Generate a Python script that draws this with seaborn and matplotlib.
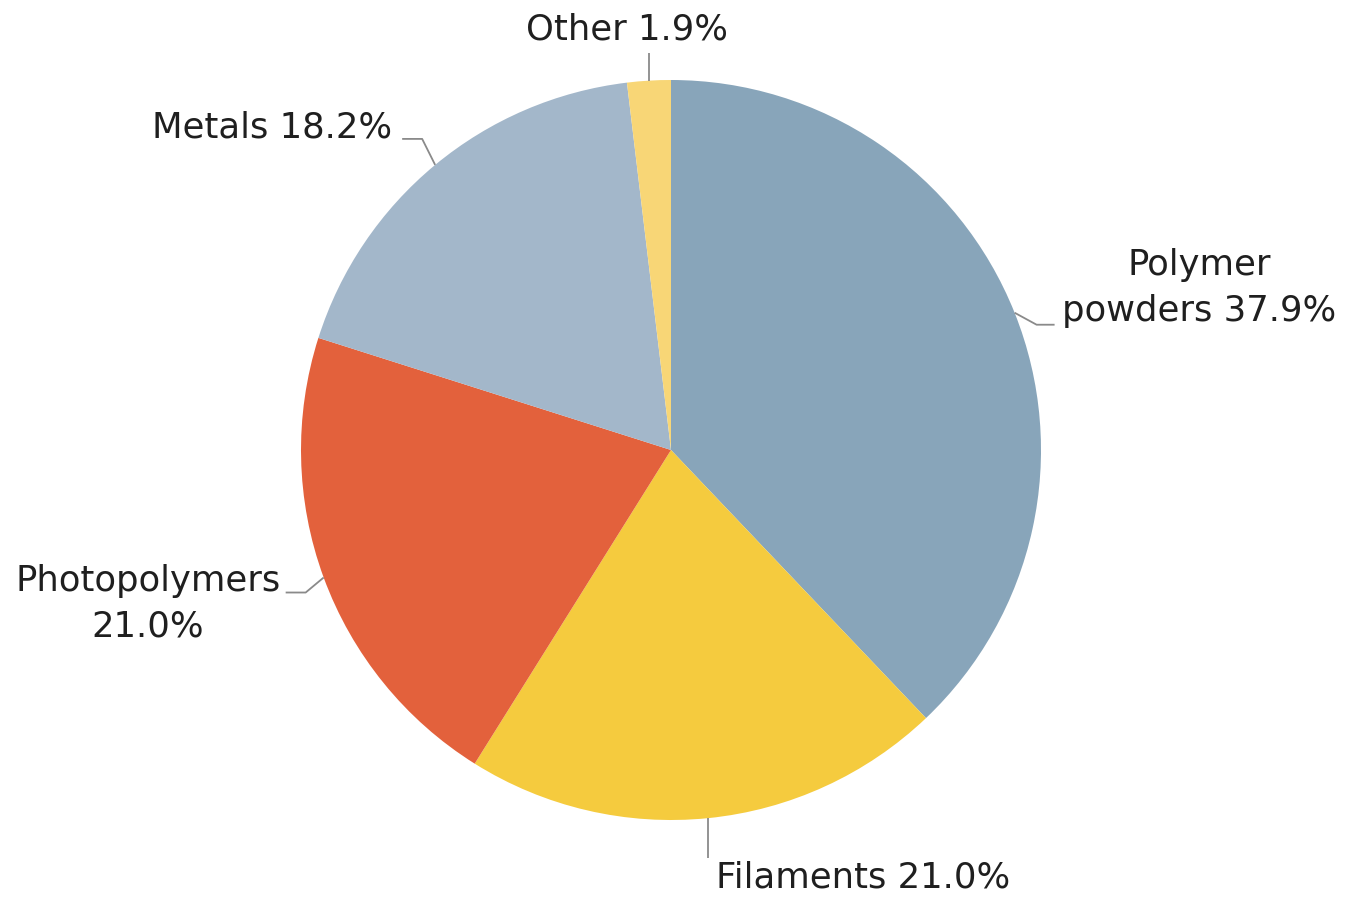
import matplotlib
matplotlib.use("Agg")
import matplotlib.pyplot as plt
import numpy as np
import seaborn as sns

categories = ["Polymer\npowders", "Filaments", "Photopolymers\n", "Metals", "Other"]
shares = [37.9, 21.0, 21.0, 18.2, 1.9]
colors = ["#88A5BA", "#F5CB3E", "#E3613C", "#A3B7CA", "#F8D676"]

sns.set_theme(style="white")
plt.rcParams["font.family"] = ["DejaVu Sans"]

W, H = 1346, 897
fig = plt.figure(figsize=(W / 100, H / 100), dpi=100)
ax = fig.add_axes([0, 0, 1, 1])
ax.set_xlim(0, W)
ax.set_ylim(0, H)
ax.axis("off")

cx, cy, R = 671, H - 450, 370
wedges, _ = ax.pie(shares, colors=colors, startangle=90, counterclock=False,
                   center=(cx, cy), radius=R, frame=True,
                   wedgeprops=dict(linewidth=0))
ax.set_xlim(0, W)
ax.set_ylim(0, H)
ax.axis("off")

labels = [
    "Polymer\npowders %.1f%%" % shares[0],
    "Filaments %.1f%%" % shares[1],
    "Photopolymers\n%.1f%%" % shares[2],
    "Metals %.1f%%" % shares[3],
    "Other %.1f%%" % shares[4],
]
# leader-line offsets (pixels, y down) : elbow, end ; text position & alignment
leaders = [
    dict(elbow=(22, 12), end=(18, 0), txt=(1199, 288), ha="center"),
    dict(elbow=(0, 40), end=(0, 0), txt=(716, 877), ha="left"),
    dict(elbow=(-18, 15), end=(-20, 0), txt=(148, 604), ha="center"),
    dict(elbow=(-13, -26), end=(-20, 0), txt=(392, 127), ha="right"),
    dict(elbow=(0, -28), end=(0, 0), txt=(627, 29), ha="center"),
]

for w, lab, ld in zip(wedges, labels, leaders):
    ang = np.deg2rad((w.theta1 + w.theta2) / 2)
    x0 = cx + R * np.cos(ang)
    y0 = cy + R * np.sin(ang)
    x1 = x0 + ld["elbow"][0]
    y1 = y0 - ld["elbow"][1]
    x2 = x1 + ld["end"][0]
    y2 = y1 - ld["end"][1]
    ax.plot([x0, x1, x2], [y0, y1, y2], color="#8a8a8a", lw=1.3,
            solid_capstyle="butt", zorder=3)
    ax.text(ld["txt"][0], H - ld["txt"][1], lab, ha=ld["ha"], va="center",
            fontsize=25.5, color="#1f1f1f", linespacing=1.42,
            multialignment="center")

fig.savefig("out.png", dpi=100, facecolor="white")
